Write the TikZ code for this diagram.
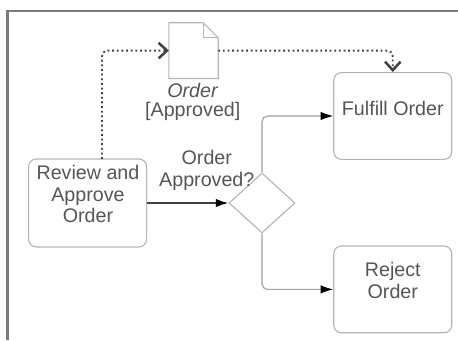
\documentclass[tikz,border=0pt]{standalone}
\usepackage{fontspec}
\setmainfont{Liberation Sans}
\usetikzlibrary{arrows.meta,shapes.geometric}
\definecolor{framegray}{HTML}{7A7A7A}
\definecolor{boxgray}{HTML}{B4B4B4}
\definecolor{flowgray}{HTML}{A0A0A0}
\definecolor{labelgray}{HTML}{555555}
\tikzset{
	taskbox/.style={draw=boxgray,line width=0.8pt,rounded corners=5.5pt,minimum width=2.95cm,minimum height=2.17cm,inner sep=0pt,align=center},
	tasktext/.style={text=labelgray,font=\fontsize{14}{15.6}\selectfont,align=center,inner sep=0pt},
	flow/.style={draw=flowgray,line width=0.8pt,rounded corners=4pt,-{Latex[length=9pt,width=6pt,black]}},
	mainflow/.style={draw=black!75,line width=1.2pt,-{Latex[length=9pt,width=6pt,black]}},
	dataflow/.style={draw=black!75,line width=1.3pt,dotted,rounded corners=4pt,-{Straight Barb[length=6pt,width=11pt,line width=1.8pt]}}
}
\begin{document}
\begin{tikzpicture}
	\useasboundingbox (0,0) rectangle (11.45,8.525);
	%Outer frame, only top and left
	\coordinate (frameTop) at (11.45,8.25);
	\coordinate (frameCorner) at (0.18,8.25);
	\coordinate (frameBottom) at (0.18,0.02);
	\draw [framegray,line width=2.1pt] (frameBottom) -- (frameCorner) -- (frameTop);
	%The tasks
	\node [taskbox,minimum height=2.2cm] (review) at (2.19,3.45) {};
	\node [taskbox] (fulfill) at (9.82,5.625) {};
	\node [taskbox] (reject) at (9.82,1.29) {};
	%The gateway
	\node [draw=boxgray,line width=0.8pt,diamond,aspect=1.1,minimum width=1.65cm,minimum height=1.5cm,inner sep=0pt] (approved) at (6.55,3.45) {};
	%The document
	\node [minimum width=1.22cm,minimum height=1.38cm,inner sep=0pt] (order) at (4.84,7.26) {};
	\draw [boxgray,line width=0.8pt] (order.south west) -- (order.north west) -- ([xshift=-0.38cm]order.north east) -- ([yshift=-0.38cm]order.north east) -- (order.south east) -- cycle;
	\draw [boxgray,line width=0.8pt] ([xshift=-0.38cm]order.north east) -- ([xshift=-0.38cm,yshift=-0.38cm]order.north east) -- ([yshift=-0.38cm]order.north east);
	%Texts
	\node [tasktext] (reviewText) at (2.2,3.675) {Review and\\Approve\\Order};
	\node [tasktext] (fulfillText) at (9.82,5.825) {Fulfill Order};
	\node [tasktext] (rejectText) at (9.82,1.51) {Reject\\Order};
	\node [tasktext,font=\fontsize{14}{13.5}\selectfont] (orderText) at (4.82,5.97) {\textit{Order}\\{[Approved]}};
	\node [tasktext] (approvedText) at (5.17,4.275) {Order\\Approved?};
	%Sequence flows
	\draw [mainflow] (review.east) -- (approved.west);
	\draw [flow] (approved.north) |- (fulfill.west);
	\draw [flow] (approved.south) |- (reject.west);
	%Data flows
	\coordinate (reviewOut) at (2.55,4.55);
	\draw [dataflow] (reviewOut) |- (order.west);
	\draw [dataflow] (order.east) -| (fulfill.north);
\end{tikzpicture}
\end{document}
